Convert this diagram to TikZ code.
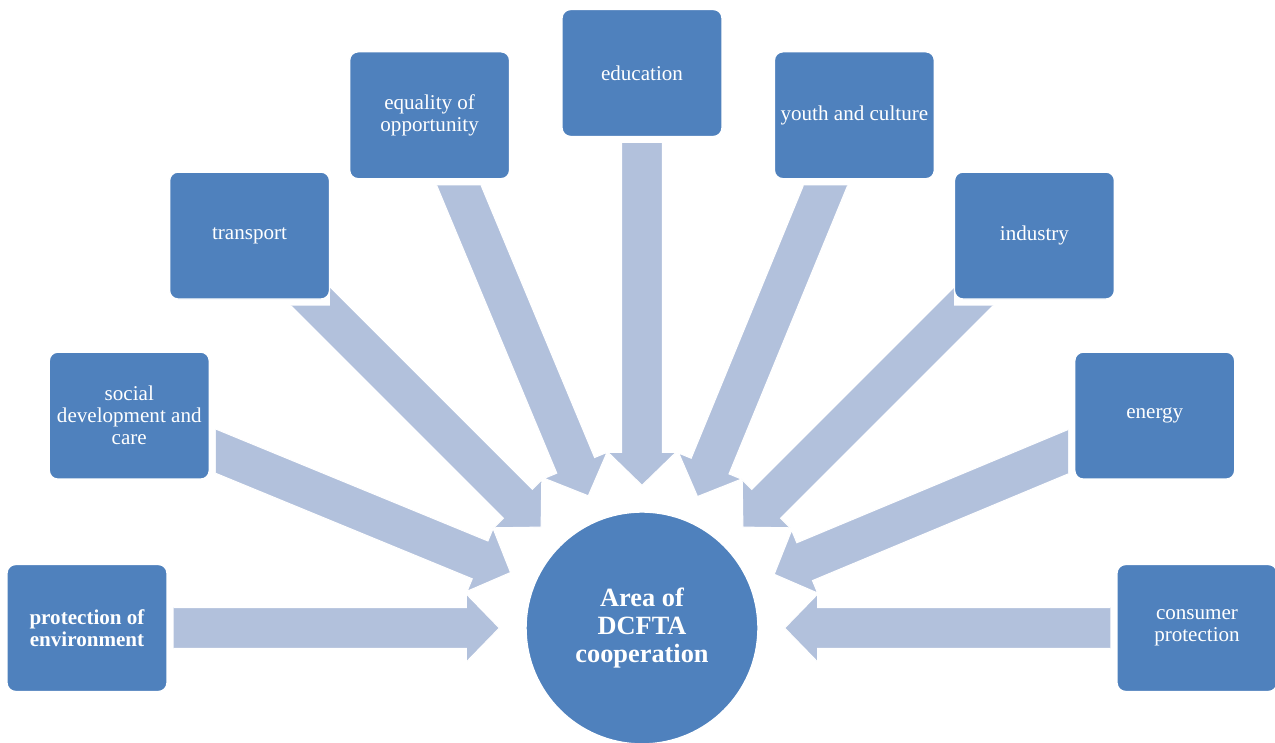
\documentclass[tikz,border=0pt]{standalone}
\usepackage{fontspec}
\setmainfont{Liberation Serif}
\usepackage{tikz}
\usetikzlibrary{calc}
\usetikzlibrary{backgrounds}
\definecolor{areablue}{RGB}{79,129,189}
\definecolor{flowblue}{RGB}{178,193,220}

\begin{document}
\begin{tikzpicture}[x=0.02cm,y=0.02cm]
	\tikzstyle{area} = [rectangle,rounded corners=0.17cm,fill=areablue,draw=white,line width=0.8pt,minimum width=3.2cm,minimum height=2.54cm,inner sep=1pt,align=center,text=white,font=\fontsize{12}{12.5}\selectfont]
	\tikzstyle{hubdisc} = [circle,fill=areablue,draw=white,line width=0.8pt,minimum size=4.64cm,inner sep=0pt,align=center,text=white,font=\fontsize{15}{16}\selectfont\bfseries]
	\tikzstyle{flow} = [fill=flowblue,draw=white,line width=0.6pt]

	% Page size
	\useasboundingbox (0,0) rectangle (1275,743);

	% Central disc
	\node[hubdisc] (hub) at (642,115) {Area of\\DCFTA\\cooperation};

	% Areas on a half ring round the disc
	\foreach \name/\ang/\txt in {env/180/{\bfseries protection of}\\{\bfseries environment},
		social/157.5/social\\development and\\care,
		transport/135/transport,
		equality/112.5/equality of\\opportunity,
		education/90/education,
		youth/67.5/youth and culture,
		industry/45/industry,
		energy/22.5/energy,
		consumer/0/consumer\\protection}
	{
		\node[area] (\name) at ($(hub)+(\ang:555)$) {\txt};
	}

	% Block arrows pointing in to the disc, cut off a little short of each box
	\begin{scope}[on background layer]
		\foreach \name/\ang/\gx/\gy in {env/180/6/0,social/157.5/6/0,transport/135/0/6,equality/112.5/0/6,education/90/0/6,youth/67.5/0/6,industry/45/0/6,energy/22.5/6/0,consumer/0/6/0}
		{
			\begin{scope}[even odd rule]
				% big frame minus the box grown by a small gap
				\clip (-1000,-1000) rectangle (3000,2000)
					($(\name.south east)+(\gx,-\gy)$) rectangle ($(\name.north west)+(-\gx,\gy)$);
				\coordinate (tail) at (\name.center);
				\coordinate (tip) at ($(hub.\ang)!0.52cm!(\name)$);
				\fill[flow] ($(tail)+(\ang+90:0.41cm)$) -- ($(tip)+(\ang:0.66cm)+(\ang+90:0.41cm)$)
					-- ($(tip)+(\ang:0.66cm)+(\ang+90:0.68cm)$) -- (tip)
					-- ($(tip)+(\ang:0.66cm)+(\ang-90:0.68cm)$) -- ($(tip)+(\ang:0.66cm)+(\ang-90:0.41cm)$)
					-- ($(tail)+(\ang-90:0.41cm)$) -- cycle;
			\end{scope}
		}
	\end{scope}
\end{tikzpicture}
\end{document}
